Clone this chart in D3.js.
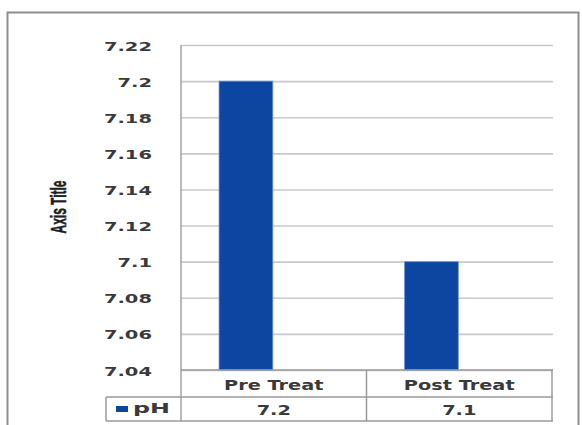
<!DOCTYPE html>
<html>
<head>
<meta charset="utf-8">
<script src="https://cdn.jsdelivr.net/npm/d3@7"></script>
<style>
  html, body { margin: 0; padding: 0; background: #ffffff; }
  svg { display: block; }
</style>
</head>
<body>
<svg id="chart" width="582" height="425"></svg>
<script>
// pH before and after treatment
const categories = ["Pre Treat", "Post Treat"];
const seriesName = "pH";
const phValues = [7.2, 7.1];
const valueLabels = ["7.2", "7.1"];
const yTicks = [7.04, 7.06, 7.08, 7.1, 7.12, 7.14, 7.16, 7.18, 7.2, 7.22];
const yTickLabels = ["7.04", "7.06", "7.08", "7.1", "7.12", "7.14", "7.16", "7.18", "7.2", "7.22"];
const axisTitle = "Axis Title";

(function () {
  const svg = d3.select("#chart");
  const barColor = "#0c46a1";
  const textColor = "#3a3a3a";
  const gridColor = "#c9c9c9";
  const tableColor = "#9a9a9a";
  const boldFont = "'DejaVu Sans', Verdana, sans-serif";

  // plot area
  const plotLeft = 181, plotRight = 552, plotTop = 45, plotBottom = 370;
  const row1 = 397, row2 = 421, legendLeft = 106;

  const y = d3.scaleLinear().domain([7.04, 7.22]).range([plotBottom, plotTop]);
  const x = d3.scaleBand().domain(categories).range([plotLeft, plotRight]).padding(0);
  const bw = x.bandwidth();

  // outer frame
  svg.append("rect")
    .attr("x", 7.5).attr("y", 12.5)
    .attr("width", 571).attr("height", 430)
    .attr("fill", "none")
    .attr("stroke", "#8e8e8e")
    .attr("stroke-width", 2);

  // gridlines and tick labels
  const yAxis = d3.axisLeft(y)
    .tickValues(yTicks)
    .tickSize(-(plotRight - plotLeft + 1))
    .tickFormat((d, i) => yTickLabels[i]);

  const gy = svg.append("g")
    .attr("transform", `translate(${plotLeft},0)`)
    .call(yAxis);
  gy.select(".domain").remove();
  gy.selectAll(".tick line")
    .attr("stroke", gridColor)
    .attr("stroke-width", 1.6);
  gy.selectAll(".tick text")
    .attr("x", null)
    .attr("dy", null)
    .attr("transform", "translate(-29,5) scale(1.5,1)")
    .attr("text-anchor", "end")
    .attr("fill", textColor)
    .style("font-family", boldFont)
    .style("font-weight", "bold")
    .style("font-size", "13px");

  // bars
  svg.append("g").selectAll("rect")
    .data(categories)
    .join("rect")
    .attr("x", d => x(d) + bw * 0.205)
    .attr("y", (d, i) => y(phValues[i]))
    .attr("width", bw * 0.29)
    .attr("height", (d, i) => y(7.04) - y(phValues[i]))
    .attr("fill", barColor)
    .attr("stroke", "#6f9ad8")
    .attr("stroke-width", 0.8);

  // vertical axis line
  svg.append("line")
    .attr("x1", plotLeft).attr("x2", plotLeft)
    .attr("y1", plotTop).attr("y2", row2)
    .attr("stroke", "#a3a3a3").attr("stroke-width", 1.5);

  // data table
  const table = svg.append("g")
    .attr("stroke", tableColor)
    .attr("stroke-width", 1.5);
  table.append("line").attr("x1", plotLeft).attr("x2", plotRight + 1).attr("y1", plotBottom).attr("y2", plotBottom);
  table.append("line").attr("x1", legendLeft).attr("x2", plotRight + 1).attr("y1", row1).attr("y2", row1);
  table.append("line").attr("x1", legendLeft).attr("x2", plotRight + 1).attr("y1", row2).attr("y2", row2);
  table.append("line").attr("x1", legendLeft).attr("x2", legendLeft).attr("y1", row1).attr("y2", row2);
  categories.forEach(c => {
    const xr = x(c) + bw;
    table.append("line").attr("x1", xr).attr("x2", xr).attr("y1", plotBottom).attr("y2", row2);
  });

  function tableText(txt, cx, by) {
    svg.append("text")
      .attr("transform", `translate(${cx},${by}) scale(1.38,1)`)
      .attr("text-anchor", "middle")
      .attr("fill", textColor)
      .style("font-family", boldFont)
      .style("font-weight", "bold")
      .style("font-size", "14px")
      .text(txt);
  }
  categories.forEach((c, i) => {
    tableText(c, x(c) + bw / 2, 390);
    tableText(valueLabels[i], x(c) + bw / 2, 415);
  });

  // legend key in the table
  svg.append("rect")
    .attr("x", 116).attr("y", 406)
    .attr("width", 12).attr("height", 6)
    .attr("fill", barColor);
  svg.append("text")
    .attr("x", 133).attr("y", 413)
    .attr("textLength", 37)
    .attr("lengthAdjust", "spacingAndGlyphs")
    .attr("fill", textColor)
    .style("font-family", boldFont)
    .style("font-weight", "bold")
    .style("font-size", "14px")
    .text(seriesName);

  // axis title
  svg.append("text")
    .attr("transform", "translate(66,207) rotate(-90) scale(1,1.35)")
    .attr("text-anchor", "middle")
    .attr("textLength", 53)
    .attr("lengthAdjust", "spacingAndGlyphs")
    .attr("fill", "#1e1e1e")
    .attr("stroke", "#1e1e1e")
    .attr("stroke-width", 0.4)
    .style("font-family", "'Liberation Sans Narrow', 'Liberation Sans', Arial, sans-serif")
    .style("font-weight", "bold")
    .style("font-size", "16px")
    .text(axisTitle);
})();
</script>
</body>
</html>
